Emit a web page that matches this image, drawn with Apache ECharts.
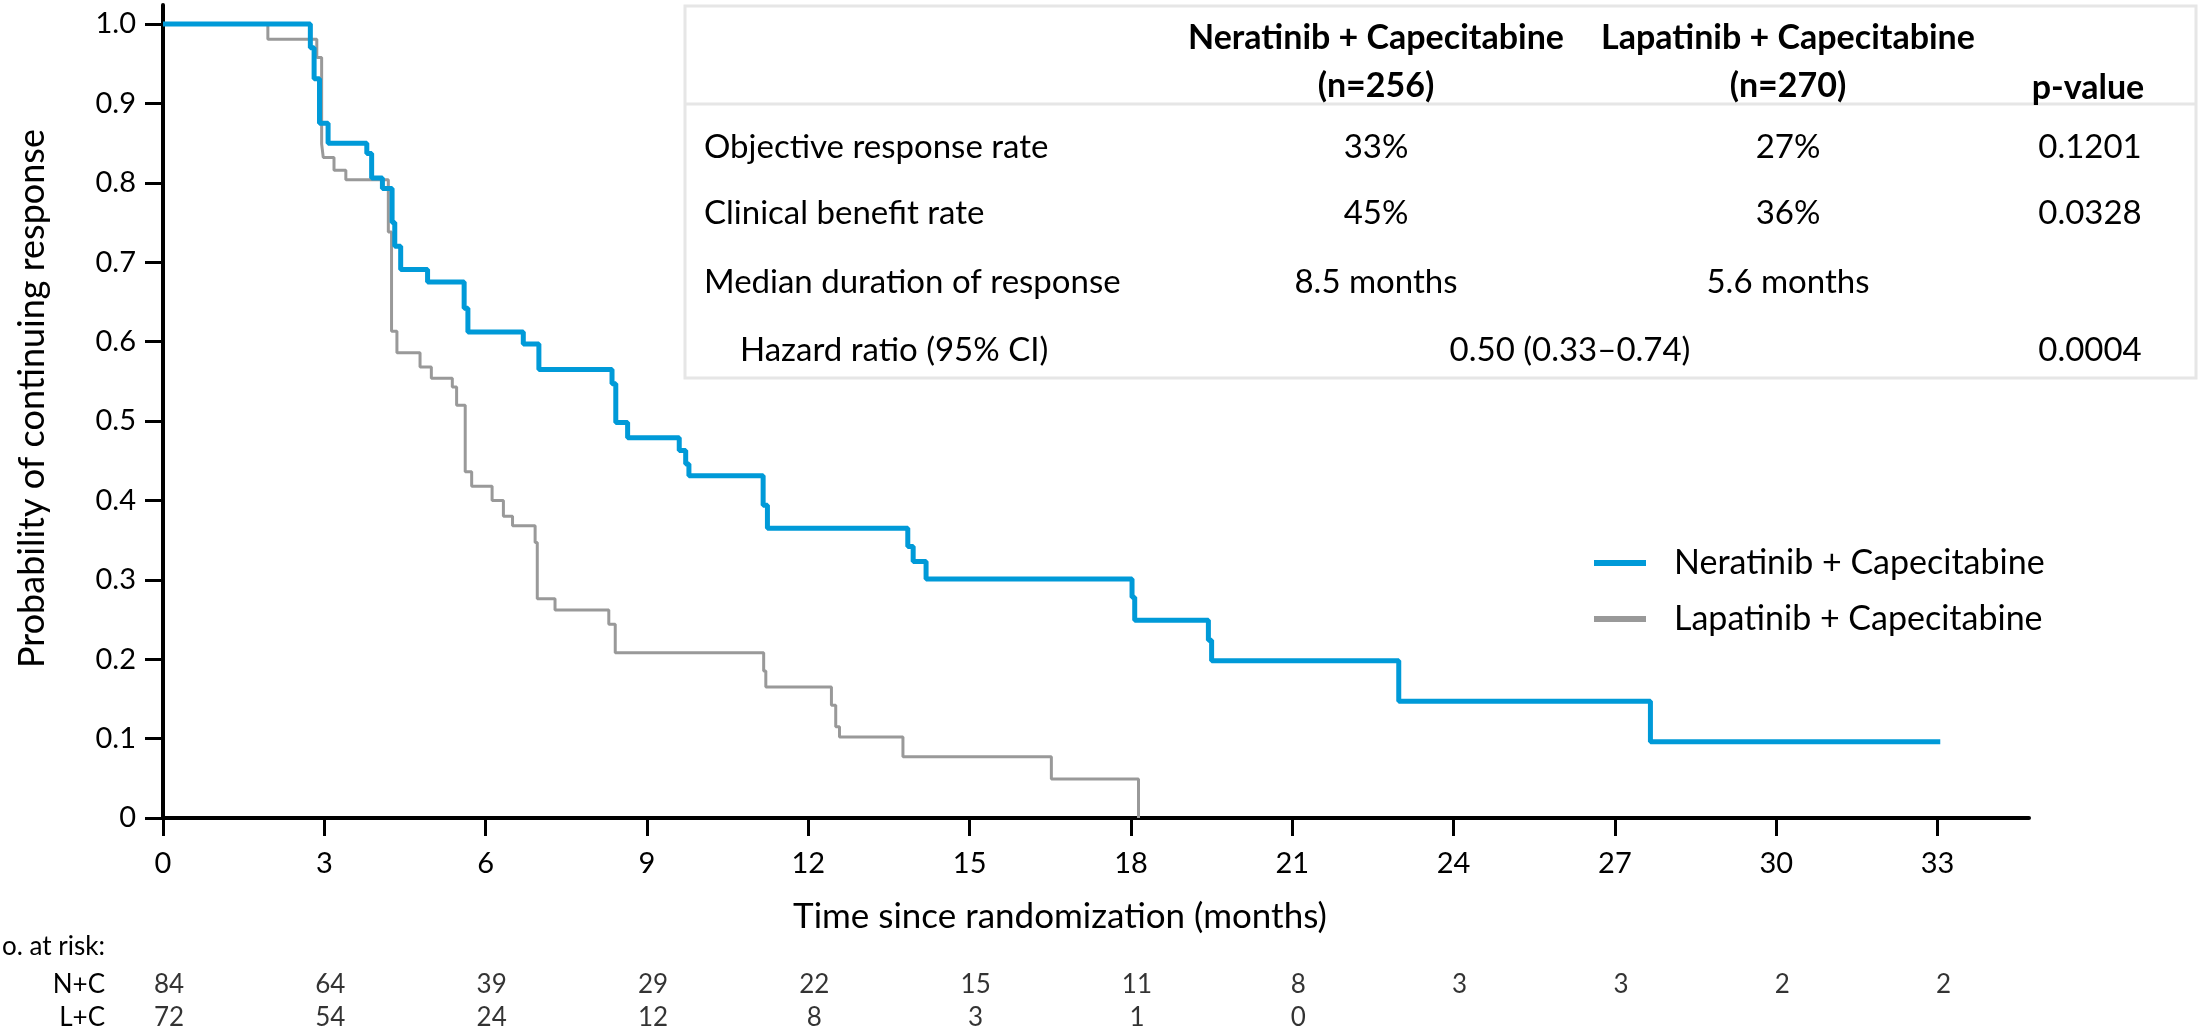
<!DOCTYPE html>
<html>
<head>
<meta charset="utf-8">
<script src="https://cdn.jsdelivr.net/npm/echarts@6.0.0/dist/echarts.min.js"></script>
<style>
  html, body { margin: 0; padding: 0; background: #ffffff; }
  #chart { width: 2202px; height: 1034px; }
</style>
</head>
<body>
<div id="chart"></div>
<script>
// ---- Data ----
// Kaplan–Meier: time (months) at which the survival value starts
const ncTimes = [0, 2.74, 2.81, 2.91, 3.07, 3.79, 3.88, 4.08, 4.26, 4.31, 4.42, 4.92, 5.60, 5.67, 6.70, 6.99, 8.35, 8.42, 8.64, 9.60, 9.72, 9.78, 11.16, 11.24, 13.85, 13.95, 14.19, 18.02, 18.07, 19.44, 19.50, 22.98, 27.66, 33.05];
const ncSurv  = [1.0, 0.970, 0.931, 0.875, 0.850, 0.837, 0.806, 0.793, 0.750, 0.720, 0.691, 0.675, 0.642, 0.612, 0.597, 0.565, 0.547, 0.498, 0.479, 0.463, 0.446, 0.431, 0.394, 0.365, 0.342, 0.323, 0.301, 0.278, 0.249, 0.224, 0.198, 0.147, 0.096, 0.096];

const lcTimes = [0, 1.95, 2.86, 2.95, 2.98, 3.18, 3.40, 4.19, 4.25, 4.35, 4.78, 4.99, 5.38, 5.46, 5.62, 5.74, 6.12, 6.33, 6.50, 6.92, 6.96, 7.29, 8.29, 8.41, 11.17, 11.21, 12.43, 12.51, 12.58, 13.76, 16.52, 18.14];
const lcSurv  = [1.0, 0.981, 0.958, 0.849, 0.832, 0.816, 0.804, 0.738, 0.613, 0.586, 0.568, 0.554, 0.543, 0.520, 0.436, 0.418, 0.400, 0.380, 0.368, 0.347, 0.276, 0.262, 0.244, 0.208, 0.185, 0.165, 0.142, 0.115, 0.102, 0.077, 0.049, 0];

const seriesNames = ['Neratinib + Capecitabine', 'Lapatinib + Capecitabine'];

// Axis ticks
const xTicks = [0, 3, 6, 9, 12, 15, 18, 21, 24, 27, 30, 33];
const yTicks = [0, 0.1, 0.2, 0.3, 0.4, 0.5, 0.6, 0.7, 0.8, 0.9, 1.0];

// Number at risk
const riskTimes = [0, 3, 6, 9, 12, 15, 18, 21, 24, 27, 30, 33];
const riskGroups = ['N+C', 'L+C'];
const ncRisk = [84, 64, 39, 29, 22, 15, 11, 8, 3, 3, 2, 2];
const lcRisk = [72, 54, 24, 12, 8, 3, 1, 0];

// Summary table
const tableHeader1 = ['Neratinib + Capecitabine', 'Lapatinib + Capecitabine'];
const tableHeader2 = ['(n=256)', '(n=270)'];
const pHeader = 'p-value';
const tableRowLabels = ['Objective response rate', 'Clinical benefit rate', 'Median duration of response', 'Hazard ratio (95% CI)'];
const neratinibValues = ['33%', '45%', '8.5 months', ''];
const lapatinibValues = ['27%', '36%', '5.6 months', ''];
const pValues = ['0.1201', '0.0328', '', '0.0004'];
const hazardRatioText = '0.50 (0.33\u20130.74)';

// ---- Chart ----
const FONT = 'Lato, "Open Sans", sans-serif';
const BLUE = '#009AD8';
const GREY = '#999999';

const ncData = ncTimes.map((t, i) => [t, ncSurv[i]]);
const lcData = lcTimes.map((t, i) => [t, lcSurv[i]]);

const riskData = [];
ncRisk.forEach((n, i) => riskData.push([riskTimes[i], riskGroups[0], n]));
lcRisk.forEach((n, i) => riskData.push([riskTimes[i], riskGroups[1], n]));

const txt = (text, x, y, opts) => Object.assign({
  type: 'text', x: x, y: y, silent: true,
  style: Object.assign({
    text: text, fill: '#000', fontFamily: 'Lato', fontSize: 33, fontWeight: 'normal',
    align: 'left', verticalAlign: 'middle', textAlign: 'left', textVerticalAlign: 'middle'
  }, opts || {})
});

const TL = 685, TT = 6, TR = 2196, TB = 378;
const col1 = 1376, col2 = 1788, colP = 2090;
const rowY = [147, 213, 282, 350];
const graphics = [
  { type: 'rect', silent: true, shape: { x: TL, y: TT, width: TR - TL, height: TB - TT },
    style: { fill: 'none', stroke: '#e6e6e6', lineWidth: 3 } },
  { type: 'line', silent: true, shape: { x1: TL, y1: 104, x2: TR, y2: 104 },
    style: { stroke: '#e6e6e6', lineWidth: 3 } },
  txt(tableHeader1[0], col1, 38, { fontWeight: 'bold', fontSize: 34, align: 'center', textAlign: 'center' }),
  txt(tableHeader2[0], col1, 86, { fontWeight: 'bold', fontSize: 34, align: 'center', textAlign: 'center' }),
  txt(tableHeader1[1], col2, 38, { fontWeight: 'bold', fontSize: 34, align: 'center', textAlign: 'center' }),
  txt(tableHeader2[1], col2, 86, { fontWeight: 'bold', fontSize: 34, align: 'center', textAlign: 'center' }),
  txt(pHeader, 2088, 88, { fontWeight: 'bold', fontSize: 34, align: 'center', textAlign: 'center' }),
  txt('No. at risk:', 105, 947, { fontSize: 26, align: 'right', textAlign: 'right' })
];
tableRowLabels.forEach((lab, i) => {
  graphics.push(txt(lab, i === 3 ? 740 : 704, rowY[i]));
  if (neratinibValues[i]) graphics.push(txt(neratinibValues[i], col1, rowY[i], { align: 'center', textAlign: 'center' }));
  if (lapatinibValues[i]) graphics.push(txt(lapatinibValues[i], col2, rowY[i], { align: 'center', textAlign: 'center' }));
  if (pValues[i]) graphics.push(txt(pValues[i], colP, rowY[i], { align: 'center', textAlign: 'center' }));
});
graphics.push(txt(hazardRatioText, 1570, rowY[3], { align: 'center', textAlign: 'center' }));

const chart = echarts.init(document.getElementById('chart'), null, { renderer: 'canvas' });
chart.setOption({
  backgroundColor: '#ffffff',
  animation: false,
  textStyle: { fontFamily: FONT },
  grid: [
    { left: 163, right: 173, top: 5, bottom: 216 },
    { left: 163, right: 173, top: 968, height: 66 }
  ],
  legend: {
    orient: 'vertical',
    left: 1589, top: 538,
    data: seriesNames,
    icon: 'rect',
    itemWidth: 52, itemHeight: 6,
    itemGap: 16,
    textStyle: { fontFamily: 'Lato', fontSize: 34, color: '#000', lineHeight: 40, padding: [0, 0, 0, 23] },
    selectedMode: false
  },
  xAxis: [
    {
      type: 'value', gridIndex: 0, min: 0, max: 34.7,
      axisLine: { show: true, onZero: false, lineStyle: { color: '#000', width: 4 } },
      axisTick: { show: true, length: 18, customValues: xTicks, lineStyle: { color: '#000', width: 3 } },
      axisLabel: { customValues: xTicks, fontFamily: 'Lato', fontSize: 29, color: '#000', margin: 31 },
      splitLine: { show: false },
      name: 'Time since randomization (months)', nameLocation: 'middle', nameGap: 81,
      nameTextStyle: { fontFamily: 'Lato', fontSize: 35, color: '#000', padding: [0, 72, 0, 0] }
    },
    { type: 'value', gridIndex: 1, min: 0, max: 34.7, show: false }
  ],
  yAxis: [
    {
      type: 'value', gridIndex: 0, min: 0, max: 1.024,
      axisLine: { show: true, onZero: false, lineStyle: { color: '#000', width: 4 } },
      axisTick: { show: true, length: 18, customValues: yTicks, lineStyle: { color: '#000', width: 3 } },
      axisLabel: { customValues: yTicks, fontFamily: 'Lato', fontSize: 29, color: '#000', margin: 27,
        formatter: v => (v === 0 ? '0' : v.toFixed(1)) },
      splitLine: { show: false },
      name: 'Probability of continuing response', nameLocation: 'middle', nameGap: 113,
      nameTextStyle: { fontFamily: 'Lato', fontSize: 36, color: '#000', padding: [0, 0, 0, 26] }
    },
    {
      type: 'category', gridIndex: 1, data: riskGroups, inverse: true,
      axisLine: { show: false }, axisTick: { show: false },
      axisLabel: { interval: 0, fontFamily: 'Lato', fontSize: 26, color: '#000', margin: 58 }
    }
  ],
  series: [
    {
      name: seriesNames[1], type: 'line', step: 'end', data: lcData,
      xAxisIndex: 0, yAxisIndex: 0, symbol: 'none', z: 2,
      lineStyle: { color: GREY, width: 3 }, itemStyle: { color: GREY }
    },
    {
      name: seriesNames[0], type: 'line', step: 'end', data: ncData,
      xAxisIndex: 0, yAxisIndex: 0, symbol: 'none', z: 3,
      lineStyle: { color: BLUE, width: 5 }, itemStyle: { color: BLUE }
    },
    {
      name: 'risk', type: 'scatter', xAxisIndex: 1, yAxisIndex: 1, data: riskData,
      symbolSize: 1, itemStyle: { color: 'rgba(0,0,0,0)' }, silent: true,
      label: { show: true, position: 'inside', formatter: p => String(p.value[2]),
        fontFamily: 'Lato', fontSize: 26, color: '#000', offset: [6, 0] }
    }
  ],
  graphic: { elements: graphics }
});
</script>
</body>
</html>
